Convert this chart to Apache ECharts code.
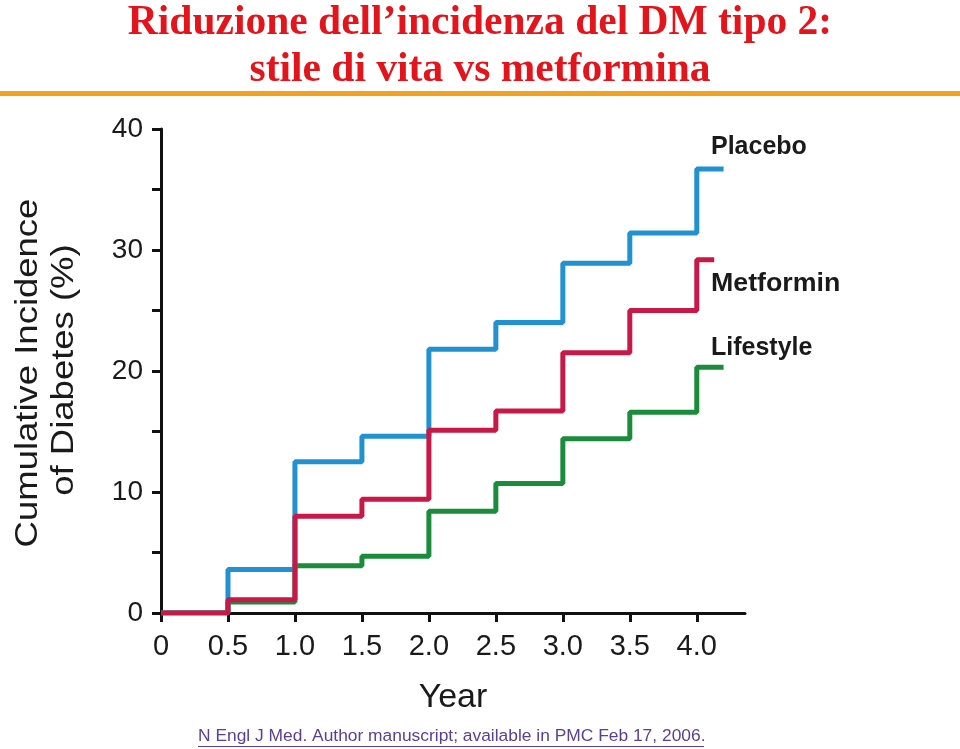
<!DOCTYPE html>
<html>
<head>
<meta charset="utf-8">
<script src="https://cdn.jsdelivr.net/npm/echarts@6/dist/echarts.min.js"></script>
<style>
  html,body{margin:0;padding:0;background:#fff;}
  #main{width:960px;height:749px;}
</style>
</head>
<body>
<div id="main"></div>
<script>
// dati (anni, incidenza cumulativa %)
var years = [0, 0.5, 1.0, 1.5, 2.0, 2.5, 3.0, 3.5, 4.0, 4.2];
var placebo   = [0, 3.6, 12.5, 14.6, 21.8, 24.0, 28.9, 31.4, 36.7, 36.7];
var metformin = [0, 1.1,  8.0,  9.4, 15.1, 16.7, 21.5, 25.0, 29.2, 29.2];
var lifestyle = [0, 0.9,  3.9,  4.7,  8.4, 10.7, 14.4, 16.6, 20.3, 20.3];
var metforminEnd = 4.13;
var xTicks = [0, 0.5, 1.0, 1.5, 2.0, 2.5, 3.0, 3.5, 4.0];
var yTicks = [0, 5, 10, 15, 20, 25, 30, 35, 40];
var yLabels = [0, 10, 20, 30, 40];

function pairs(xs, ys){
	var out = [];
	for(var i=0;i<xs.length;i++){
		out.push([xs[i], ys[i]]);
	}
	return out;
}
var metData = pairs(years, metformin);
metData[metData.length-1][0] = metforminEnd;

var chart = echarts.init(document.getElementById('main'));
var font = 'Liberation Sans, Arial, sans-serif';
var titleFont = 'bold 41.5px "Liberation Serif", "Times New Roman", serif';

var option = {
	backgroundColor: '#fff',
	animation: false,
	grid: {left: 161, top: 129, width: 584, height: 484},
	xAxis: {
		type: 'value', min: 0, max: 4.36,
		axisLine: {lineStyle: {color: '#111', width: 3}},
		axisTick: {length: 9, lineStyle: {color: '#111', width: 3}, customValues: xTicks},
		axisLabel: {
			customValues: xTicks, margin: 19,
			fontFamily: font, fontSize: 29, color: '#1a1a1a',
			formatter: function(v){ return v === 0 ? '0' : v.toFixed(1); }
		},
		splitLine: {show: false},
		name: 'Year', nameLocation: 'middle', nameGap: 68,
		nameTextStyle: {fontFamily: font, fontSize: 34, color: '#1a1a1a'}
	},
	yAxis: {
		type: 'value', min: 0, max: 40,
		axisLine: {show: true, lineStyle: {color: '#111', width: 3}},
		axisTick: {show: true, length: 9, lineStyle: {color: '#111', width: 3}, customValues: yTicks},
		axisLabel: {customValues: yLabels, margin: 18, fontFamily: font, fontSize: 28, color: '#1a1a1a'},
		splitLine: {show: false}
	},
	graphic: [
		{type: 'text', left: 'center', top: 2, style: {text: 'Riduzione dell\u2019incidenza del DM tipo 2:', font: titleFont, fill: '#e3141b'}},
		{type: 'text', left: 'center', top: 49, style: {text: 'stile di vita vs metformina', font: titleFont, fill: '#e3141b'}},
		{type: 'rect', left: 0, top: 91, shape: {width: 960, height: 5}, style: {fill: '#f4a21d'}},
		{type: 'text', x: 28, y: 373, rotation: Math.PI/2, scaleX: 1.14, style: {text: 'Cumulative Incidence', font: '32px ' + font, fill: '#1a1a1a', align: 'center', verticalAlign: 'middle'}},
		{type: 'text', x: 64, y: 370, rotation: Math.PI/2, scaleX: 1.14, style: {text: 'of Diabetes (%)', font: '32px ' + font, fill: '#1a1a1a', align: 'center', verticalAlign: 'middle'}},
		{type: 'text', x: 711, y: 135, style: {text: 'Placebo', font: 'bold 25px ' + font, fill: '#1a1a1a'}},
		{type: 'text', x: 711, y: 272, scaleX: 1.07, style: {text: 'Metformin', font: 'bold 25px ' + font, fill: '#1a1a1a'}},
		{type: 'text', x: 711, y: 336, style: {text: 'Lifestyle', font: 'bold 25px ' + font, fill: '#1a1a1a'}},
		{type: 'text', left: 198, top: 728, style: {text: 'N Engl J Med. Author manuscript; available in PMC Feb 17, 2006.', font: '17.4px ' + font, fill: '#5b3f93'}},
		{type: 'rect', left: 198, top: 746, shape: {width: 506, height: 1}, style: {fill: '#5b3f93'}}
	],
	series: [
		{name: 'Lifestyle', type: 'line', step: 'end', symbol: 'none', data: pairs(years, lifestyle), lineStyle: {color: '#1b8c3c', width: 5}},
		{name: 'Placebo', type: 'line', step: 'end', symbol: 'none', data: pairs(years, placebo), lineStyle: {color: '#2191cf', width: 5}},
		{name: 'Metformin', type: 'line', step: 'end', symbol: 'none', data: metData, lineStyle: {color: '#c71847', width: 5}}
	]
};
chart.setOption(option);
</script>
</body>
</html>
